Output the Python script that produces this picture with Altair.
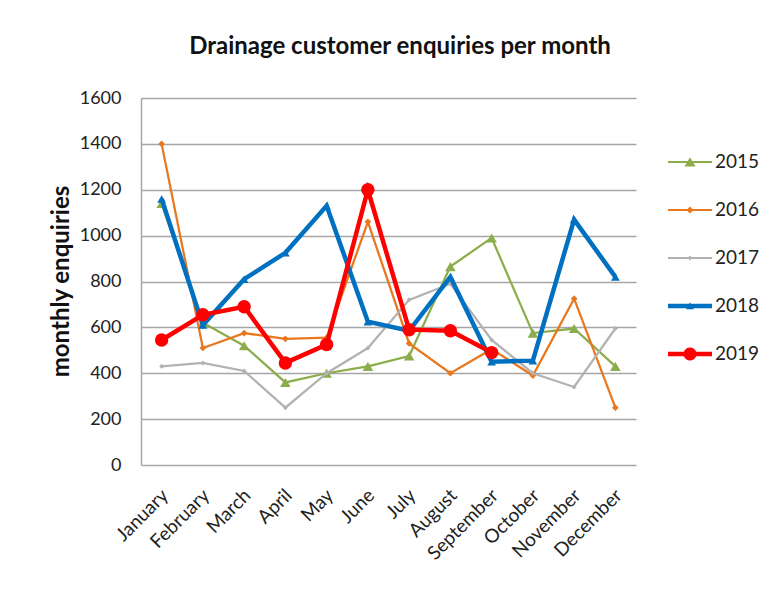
import math
import altair as alt
import pandas as pd

months = ["January", "February", "March", "April", "May", "June", "July",
          "August", "September", "October", "November", "December"]
years = ["2015", "2016", "2017", "2018", "2019"]
v2015 = [1140, 620, 520, 360, 400, 430, 475, 865, 990, 575, 595, 430]
v2016 = [1400, 510, 575, 550, 555, 1060, 530, 400, 505, 390, 725, 250]
v2017 = [430, 445, 410, 250, 400, 510, 720, 790, 545, 400, 340, 595]
v2018 = [1160, 610, 810, 925, 1130, 625, 585, 820, 450, 455, 1070, 820]
v2019 = [545, 655, 690, 445, 525, 1200, 590, 585, 490]
y_ticks = [0, 200, 400, 600, 800, 1000, 1200, 1400, 1600]

colors = ["#8CAD4C", "#E8771E", "#B2B2B2", "#0070C0", "#FF0000"]
line_widths = [2.25, 2.25, 2.25, 4.5, 4.5]
shapes = ["triangle-up", "diamond", "diamond", "triangle-up", "circle"]
sizes = [110, 45, 25, 75, 180]

FONT = "Lato"

rows = []
for yr, vals in zip(years, [v2015, v2016, v2017, v2018, v2019]):
    for m, v in zip(months, vals):
        rows.append({"year": yr, "month": m, "value": v})
df = pd.DataFrame(rows)


def poly(pts):
    return "M" + " L".join(f"{x:.3f},{y:.3f}" for x, y in pts) + " Z"


def line_rect(t):
    return poly([(-1, -t), (1, -t), (1, t), (-1, t)])


def tri(w, top, bot):
    return poly([(0, top), (w, bot), (-w, bot)])


def diamond(r):
    return poly([(0, -r), (r, 0), (0, r), (-r, 0)])


def circle(r, n=20):
    return poly([(r * math.cos(2 * math.pi * k / n), r * math.sin(2 * math.pi * k / n)) for k in range(n)])


legend_paths = [
    line_rect(0.05) + " " + tri(0.25, -0.22, 0.2),
    line_rect(0.05) + " " + diamond(0.16),
    line_rect(0.05) + " " + diamond(0.11),
    line_rect(0.1) + " " + tri(0.18, -0.17, 0.15),
    line_rect(0.1) + " " + circle(0.3),
]

base = alt.Chart(df)

x_enc = alt.X(
    "month:N", sort=months, scale=alt.Scale(padding=0.5),
    axis=alt.Axis(title=None, labelAngle=-45, labelAlign="right", labelBaseline="middle",
                  labelFont=FONT, labelFontSize=19, labelColor="#222222", labelPadding=27,
                  labelOffset=3, ticks=False, domain=False, grid=False),
)
y_enc = alt.Y(
    "value:Q", scale=alt.Scale(domain=[0, 1600], nice=False),
    axis=alt.Axis(values=y_ticks, format="d", title="monthly enquiries", titleFont=FONT,
                  titleFontSize=24, titleFontWeight="bold", titleColor="#111111",
                  titleX=-80, titleY=183, titleAlign="center", titleBaseline="middle",
                  titleAngle=-90,
                  labelFont=FONT, labelFontSize=18, labelColor="#222222", labelPadding=20,
                  ticks=False, domain=True, domainColor="#A6A6A6", domainWidth=1.5,
                  grid=True, gridColor="#A6A6A6", gridWidth=1.5),
)

layers = []
for i, yr in enumerate(years):
    sub = base.transform_filter(alt.datum.year == yr)
    layers.append(sub.mark_line(color=colors[i], strokeWidth=line_widths[i]).encode(x=x_enc, y=y_enc))
    layers.append(sub.mark_point(shape=shapes[i], size=sizes[i], filled=True, color=colors[i],
                                 opacity=1).encode(x=x_enc, y=y_enc))

leg = alt.Legend(title=None, orient="none", legendX=527, legendY=42, padding=0,
                 symbolSize=1936, symbolStrokeWidth=0, symbolOpacity=1, labelOffset=3,
                 labelFont=FONT, labelFontSize=19, labelColor="#222222", rowPadding=16)
legend_layer = base.transform_filter("datum.value < 0").mark_point(filled=True, opacity=1).encode(
    x=x_enc, y=y_enc,
    color=alt.Color("year:N", scale=alt.Scale(domain=years, range=colors), legend=leg),
    shape=alt.Shape("year:N", scale=alt.Scale(domain=years, range=legend_paths), legend=leg),
)
layers.append(legend_layer)

title_df = pd.DataFrame({"t": ["Drainage customer enquiries per month"]})
title_layer = alt.Chart(title_df).mark_text(
    font=FONT, fontSize=24, fontWeight="bold", color="#111111", align="center", baseline="middle"
).encode(text="t:N", x=alt.value(259), y=alt.value(-51))
layers.append(title_layer)

chart = alt.layer(*layers).properties(
    width=495, height=367,
    autosize=alt.AutoSizeParams(type="none"),
    padding={"left": 133, "top": 90, "right": 127, "bottom": 110},
).configure_view(stroke=None)

chart.save("out.html", embed_options={"renderer": "svg", "actions": False})
